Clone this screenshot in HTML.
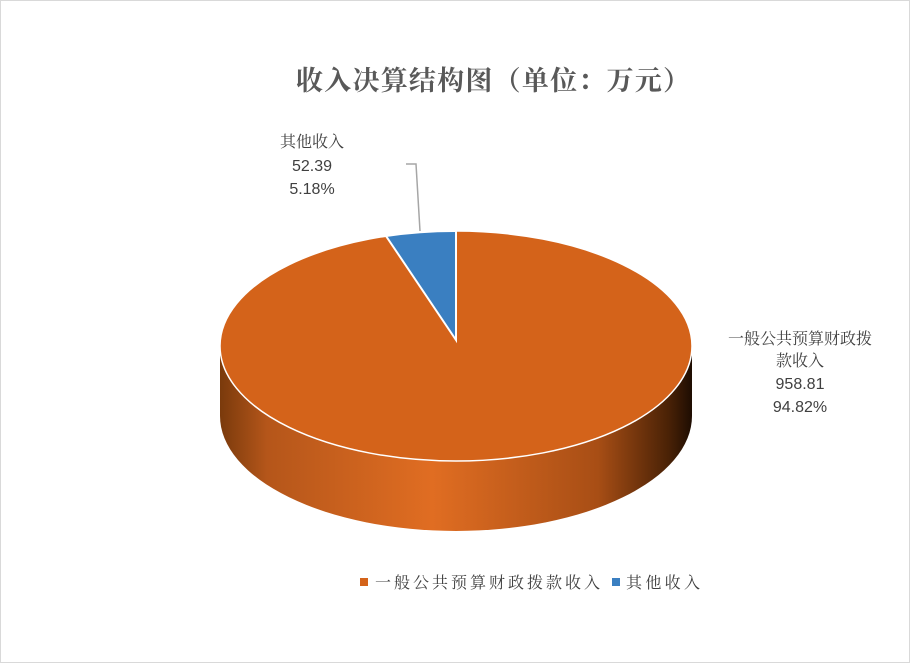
<html><body style="margin:0;background:#fff">
<svg width="910" height="663" xmlns="http://www.w3.org/2000/svg" style="font-family:'Liberation Serif','Noto Serif CJK SC',serif">
<defs>
<linearGradient id="sd" x1="220" y1="0" x2="692" y2="0" gradientUnits="userSpaceOnUse">
<stop offset="0" stop-color="#7a3a0c"/><stop offset="0.1" stop-color="#b5561a"/><stop offset="0.45" stop-color="#e06d22"/><stop offset="0.8" stop-color="#a84e15"/><stop offset="0.95" stop-color="#4a2206"/><stop offset="1" stop-color="#1e0d02"/>
</linearGradient>
</defs>
<rect x="0.5" y="0.5" width="909" height="662" fill="#fff" stroke="#d9d9d9"/>
<text x="296" y="90" textLength="394" font-size="27" fill="#595959" font-weight="bold">收入决算结构图（单位：万元）</text>
<path d="M220 346 L220 416 A236 115 0 0 0 692 416 L692 346 Z" fill="url(#sd)"/>
<ellipse cx="456" cy="346" rx="236" ry="115" fill="#d4631a" stroke="#fff" stroke-width="1.5"/>
<path d="M456 340 L456 231 A236 115 0 0 0 386 236 Z" fill="#3a7fc1" stroke="#fff" stroke-width="2"/>
<line x1="456" y1="340" x2="456" y2="231" stroke="#fff" stroke-width="2"/>
<polyline points="406,164 416,164 420,231" fill="none" stroke="#a6a6a6" stroke-width="1.5"/>
<g font-size="16" fill="#404040" text-anchor="middle" font-family="'Liberation Sans','Noto Serif CJK SC',sans-serif">
<text x="312" y="147">其他收入</text><text x="312" y="171">52.39</text><text x="312" y="194">5.18%</text>
<text x="800" y="344">一般公共预算财政拨</text><text x="800" y="366">款收入</text><text x="800" y="389">958.81</text><text x="800" y="412">94.82%</text>
</g>
<rect x="360" y="578" width="8" height="8" fill="#d4631a"/>
<rect x="612" y="578" width="8" height="8" fill="#3a7fc1"/>
<g font-size="16" fill="#404040"><text x="375" y="588" textLength="225">一般公共预算财政拨款收入</text><text x="626" y="588" textLength="74">其他收入</text></g>
</svg>
</body></html>
